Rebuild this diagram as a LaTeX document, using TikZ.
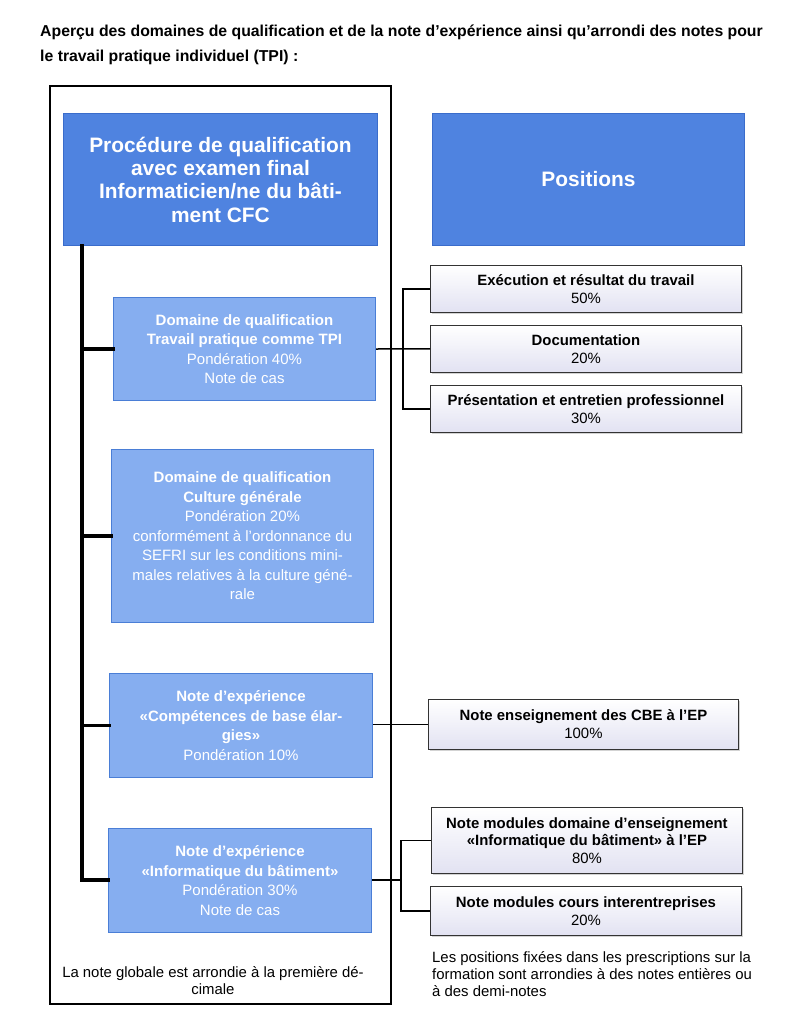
\documentclass[tikz,border=0pt]{standalone}
\usepackage{fontspec}
\setmainfont{Liberation Sans}
\usetikzlibrary{shadows}
\definecolor{mainblue}{HTML}{4F83E0}
\definecolor{mainedge}{HTML}{3A6CCB}
\definecolor{subblue}{HTML}{86AEF0}
\definecolor{subedge}{HTML}{4A7ED6}
\definecolor{lavender}{HTML}{E2E2F2}
\tikzset{
  headbox/.style={draw=mainedge, line width=1pt, fill=mainblue, text=white,
    font=\fontsize{20.9}{23.3}\selectfont\bfseries, align=center, anchor=north west},
  domainbox/.style={draw=subedge, line width=1pt, fill=subblue, text=white,
    font=\fontsize{15}{19.5}\selectfont, align=center, anchor=north west},
  posbox/.style={draw=black!80, line width=0.9pt, top color=white, bottom color=lavender,
    drop shadow={shadow xshift=1.2pt, shadow yshift=-1.2pt, opacity=0.35},
    font=\fontsize{14.9}{17.7}\selectfont, align=center, anchor=north west},
  tree/.style={line width=3.6pt, line cap=rect},
  branch/.style={line width=1.5pt}
}
\begin{document}
\begin{tikzpicture}[x=1pt, y=-1pt]
  \useasboundingbox (0,0) rectangle (803,1024);
  % title
  \node[anchor=north west, align=left, font=\fontsize{15.8}{25}\selectfont\bfseries, inner sep=0pt]
    (title) at (40,25) {Aperçu des domaines de qualification et de la note d’expérience ainsi qu’arrondi des notes pour\\
    le travail pratique individuel (TPI) :};
  % outer frame
  \draw[line width=1.3pt] (50,86) rectangle (391,1004);
  % head boxes
  \node[headbox, minimum width=314, minimum height=132] (proc) at (63,113)
    {Procédure de qualification\\avec examen final\\Informaticien/ne du bâti-\\ment CFC};
  \node[headbox, minimum width=312, minimum height=132] (pos) at (432,113) {Positions};
  % qualification domains
  \node[domainbox, minimum width=262, minimum height=103] (tpi) at (113,297)
    {\textbf{Domaine de qualification}\\\textbf{Travail pratique comme TPI}\\Pondération 40\%\\Note de cas};
  \node[domainbox, minimum width=262, minimum height=173] (cg) at (111,449)
    {\textbf{Domaine de qualification}\\\textbf{Culture générale}\\Pondération 20\%\\conformément à l’ordonnance du\\SEFRI sur les conditions mini-\\males relatives à la culture géné-\\rale};
  \node[domainbox, minimum width=263, minimum height=104] (cbe) at (109,673)
    {\textbf{Note d’expérience}\\\textbf{«Compétences de base élar-}\\\textbf{gies»}\\Pondération 10\%};
  \node[domainbox, minimum width=263, minimum height=104] (inf) at (108,828)
    {\textbf{Note d’expérience}\\\textbf{«Informatique du bâtiment»}\\Pondération 30\%\\Note de cas};
  % positions
  \node[posbox, minimum width=311, minimum height=47] (exe) at (430,265)
    {\textbf{Exécution et résultat du travail}\\50\%};
  \node[posbox, minimum width=311, minimum height=47] (doc) at (430,325)
    {\textbf{Documentation}\\20\%};
  \node[posbox, minimum width=311, minimum height=47] (pres) at (430,385)
    {\textbf{Présentation et entretien professionnel}\\30\%};
  \node[posbox, minimum width=310, minimum height=50] (ens) at (428,699)
    {\textbf{Note enseignement des CBE à l’EP}\\100\%};
  \node[posbox, minimum width=311, minimum height=66] (mod) at (431,807)
    {\textbf{Note modules domaine d’enseignement}\\\textbf{«Informatique du bâtiment» à l’EP}\\80\%};
  \node[posbox, minimum width=311, minimum height=49] (cie) at (430,886)
    {\textbf{Note modules cours interentreprises}\\20\%};
  % notes
  \node[align=center, font=\fontsize{14.9}{17}\selectfont, inner sep=0pt] (glob) at (213,981)
    {La note globale est arrondie à la première dé-\\cimale};
  \node[anchor=north west, align=left, font=\fontsize{14.9}{17}\selectfont, inner sep=0pt] (arr) at (432,951)
    {Les positions fixées dans les prescriptions sur la\\formation sont arrondies à des notes entières ou\\à des demi-notes};
  % main tree
  \coordinate (spine) at (82,880);
  \draw[tree] (proc.south west -| spine) -- (spine);
  \draw[tree] (tpi.west -| spine) -- (tpi.west);
  \draw[tree] (cg.west -| spine) -- (cg.west);
  \draw[tree] (cbe.west -| spine) -- (cbe.west);
  \draw[tree] (spine) -- (inf.west |- spine);
  % branches to positions
  \coordinate (j1) at (403,347);
  \draw[branch] (tpi.east) -- (doc.west);
  \draw[branch] (exe.west) -| (j1) |- (pres.west);
  \draw[branch] (cbe.east |- ens.west) -- (ens.west);
  \coordinate (j2) at (401,880);
  \draw[branch] (inf.east |- j2) -- (j2);
  \draw[branch] (mod.west) -| (j2) |- (cie.west);
\end{tikzpicture}
\end{document}
